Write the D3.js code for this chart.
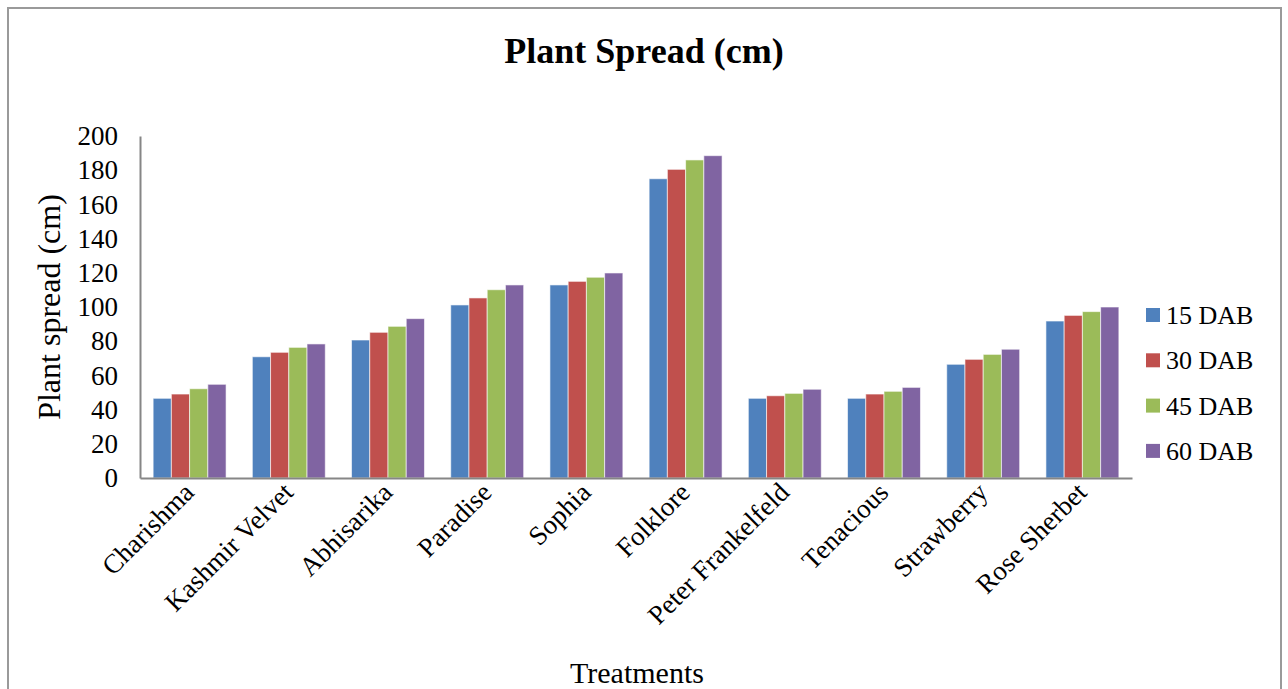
<!DOCTYPE html>
<html>
<head>
<meta charset="utf-8">
<script src="https://cdn.jsdelivr.net/npm/d3@7"></script>
<style>
  body { margin: 0; background: #ffffff; }
  svg text { font-family: "Liberation Serif", "Times New Roman", serif !important; fill: #000; }
</style>
</head>
<body>
<div id="chart"></div>
<script>
// data
var treatments = ["Charishma", "Kashmir Velvet", "Abhisarika", "Paradise", "Sophia",
                  "Folklore", "Peter Frankelfeld", "Tenacious", "Strawberry", "Rose Sherbet"];
var seriesNames = ["15 DAB", "30 DAB", "45 DAB", "60 DAB"];
var dab15 = [46.6, 70.9, 80.7, 101.2, 112.9, 175.0, 46.6, 46.6, 66.5, 91.8];
var dab30 = [49.1, 73.5, 85.2, 105.3, 115.0, 180.5, 48.1, 49.1, 69.4, 95.1];
var dab45 = [52.2, 76.4, 88.7, 110.1, 117.4, 186.0, 49.5, 50.7, 72.3, 97.3];
var dab60 = [54.8, 78.4, 93.2, 112.9, 119.9, 188.5, 51.9, 53.0, 75.3, 100.0];
var yTicks = [0, 20, 40, 60, 80, 100, 120, 140, 160, 180, 200];
var colors = ["#4F81BD", "#C0504D", "#9BBB59", "#8064A2"];

var allSeries = [dab15, dab30, dab45, dab60];

var W = 1288, H = 689;
var plot = {left: 140, right: 1132, top: 136, bottom: 478};
var serif = "'Liberation Serif', 'Times New Roman', serif";

var svg = d3.select("#chart")
  .append("svg")
  .attr("width", W)
  .attr("height", H)
  .attr("font-family", serif);

// outer frame
svg.append("rect")
  .attr("x", 8).attr("y", 8)
  .attr("width", 1273).attr("height", 700)
  .attr("fill", "none")
  .attr("stroke", "#9a9a9a")
  .attr("stroke-width", 2);

// title
svg.append("text")
  .attr("x", 644).attr("y", 63)
  .attr("text-anchor", "middle")
  .style("font-size", "36px")
  .style("font-weight", "bold")
  .text("Plant Spread (cm)");

// scales
var x0 = d3.scaleBand()
  .domain(treatments)
  .range([plot.left, plot.right]);

var x1 = d3.scaleBand()
  .domain(seriesNames)
  .range([0, x0.bandwidth()])
  .paddingInner(0)
  .paddingOuter(0.72);

var y = d3.scaleLinear()
  .domain([0, 200])
  .range([plot.bottom, plot.top]);

// bars
var groups = svg.append("g").selectAll("g")
  .data(treatments)
  .enter()
  .append("g")
  .attr("transform", d => "translate(" + x0(d) + ",0)");

groups.selectAll("rect")
  .data((d, i) => seriesNames.map((s, j) => ({s: s, j: j, v: allSeries[j][i]})))
  .enter()
  .append("rect")
  .attr("x", d => x1(d.s))
  .attr("y", d => y(d.v))
  .attr("width", x1.bandwidth())
  .attr("height", d => y(0) - y(d.v))
  .attr("fill", d => colors[d.j])
  .attr("stroke", "#ffffff")
  .attr("stroke-opacity", 0.6)
  .attr("stroke-width", 1);

// y axis
var yAxis = svg.append("g")
  .attr("transform", "translate(" + plot.left + ",0)")
  .call(d3.axisLeft(y).tickValues(yTicks).tickSize(0).tickPadding(22));
yAxis.attr("font-family", serif).attr("font-size", 27);
yAxis.select(".domain").attr("stroke", "#868686").attr("stroke-width", 2);
yAxis.selectAll("text").attr("fill", "#000");

// x axis
var xAxis = svg.append("g")
  .attr("transform", "translate(0," + plot.bottom + ")")
  .call(d3.axisBottom(x0).tickSize(0).tickFormat(""));
xAxis.select(".domain").attr("stroke", "#868686").attr("stroke-width", 2);

svg.append("g").selectAll("text")
  .data(treatments)
  .enter()
  .append("text")
  .attr("transform", d => "translate(" + (x0(d) + x0.bandwidth() / 2 + 6) + "," + (plot.bottom + 16) + ") rotate(-45)")
  .attr("text-anchor", "end")
  .style("font-size", "27px")
  .text(d => d);

// axis titles
svg.append("text")
  .attr("transform", "translate(60," + ((plot.top + plot.bottom) / 2) + ") rotate(-90)")
  .attr("text-anchor", "middle")
  .style("font-size", "32px")
  .text("Plant spread (cm)");

svg.append("text")
  .attr("x", 637).attr("y", 683)
  .attr("text-anchor", "middle")
  .style("font-size", "30px")
  .text("Treatments");

// legend
var legend = svg.append("g").selectAll("g")
  .data(seriesNames)
  .enter()
  .append("g")
  .attr("transform", (d, i) => "translate(1146," + (315 + i * 45.3) + ")");

legend.append("rect")
  .attr("x", 0).attr("y", -7)
  .attr("width", 14).attr("height", 14)
  .attr("fill", (d, i) => colors[i]);

legend.append("text")
  .attr("x", 20).attr("y", 9)
  .style("font-size", "26px")
  .text(d => d);
</script>
</body>
</html>
